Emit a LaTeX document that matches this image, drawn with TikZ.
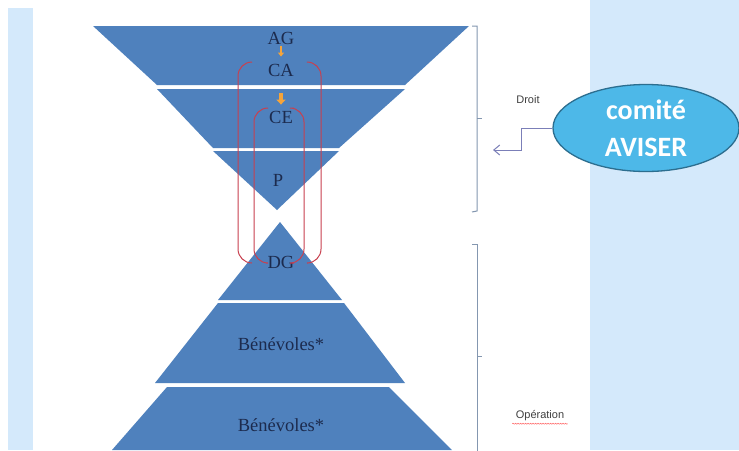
\documentclass[tikz,border=0pt]{standalone}
\usepackage{fontspec}
\setmainfont{Liberation Serif}
\newfontfamily\labelfont{Liberation Sans}
\newfontfamily\calfont{Carlito}
\usetikzlibrary{shapes.geometric,arrows.meta,decorations.pathmorphing}

\definecolor{bandblue}{HTML}{4F81BD}
\definecolor{bandtext}{HTML}{1C2B4E}
\definecolor{bgblue}{HTML}{D4E9FB}
\definecolor{linkred}{HTML}{C8404F}
\definecolor{stepor}{HTML}{F5A43A}
\definecolor{bracecol}{HTML}{8497B0}
\definecolor{arrowcol}{HTML}{7B7FB8}
\definecolor{ellfill}{HTML}{4DB8E8}
\definecolor{ellborder}{HTML}{2C6E8F}

\tikzset{
  band/.style={fill=bandblue},
  bandlabel/.style={text=bandtext, inner sep=1pt, font=\fontsize{18.5}{22}\selectfont},
  sidelabel/.style={text=black!75, font=\labelfont\fontsize{11}{13}\selectfont},
  linkline/.style={linkred, line width=1pt, rounded corners=14pt},
  brace/.style={bracecol, line width=1pt}
}

\begin{document}
\begin{tikzpicture}[x=1pt, y=-1pt]
        \useasboundingbox (0,0) rectangle (739,450);

        % Background
        \fill[white] (0,0) rectangle (739,450);
        \fill[bgblue] (8,8) rectangle (33,450);
        \fill[bgblue] (590,0) rectangle (739,450);

        % Top (inverted) pyramid
        \fill[band] (93,26) -- (469,26) -- (405,85) -- (157,85) -- cycle;
        \fill[band] (157,89) -- (405,89) -- (339,148) -- (213,148) -- cycle;
        \fill[band] (213,151) -- (339,151) -- (277,210) -- cycle;

        % Bottom pyramid
        \fill[band] (280,222) -- (342,300) -- (218,300) -- cycle;
        \fill[band] (218,303) -- (344,303) -- (405,383) -- (155,383) -- cycle;
        \fill[band] (167,387) -- (389,387) -- (452,450) -- (112,450) -- cycle;

        % Labels
        \node[bandlabel] (ag) at (281,38) {AG};
        \node[bandlabel] (ca) at (281,70) {CA};
        \node[bandlabel] (ce) at (281,117) {CE};
        \node[bandlabel] (p) at (278,180) {P};
        \node[bandlabel] (dg) at (281,262) {DG};
        \node[bandlabel] (ben1) at (281,344) {Bénévoles*};
        \node[bandlabel] (ben2) at (281,425) {Bénévoles*};

        % Orange steps
        \draw[stepor, line width=2.5pt, shorten <=1pt, shorten >=6pt, -{Triangle[width=6pt,length=4pt]}] (ag.south) -- (ca.north);
        \draw[stepor, line width=4pt, shorten <=16pt, shorten >=5pt, -{Triangle[width=9pt,length=5pt]}] (ca.south) -- (ce.north);

        % Red links
        \draw[linkline] (252,62) -- (238,62) -- (238,263) -- (252,263);
        \draw[linkline] (308,62) -- (321,62) -- (321,263) -- (308,263);
        \draw[linkline] (266,108) -- (254,108) -- (254,263) -- (266,263);
        \draw[linkline] (294,108) -- (304,108) -- (304,263) -- (294,263);

        % Braces
        \draw[brace] (472,26) -- (477,26) -- (477,211) -- (472,212);
        \draw[brace] (477,118) -- (482,118);
        \draw[brace] (472,244) -- (477,244) -- (477,452);
        \draw[brace] (477,356) -- (482,356);

        \node[sidelabel] (droit) at (528,100) {Droit};
        \node[sidelabel] (operation) at (540,416) {Opération};
        \draw[red!60, line width=0.5pt, decorate, decoration={snake, amplitude=0.5pt, segment length=2.5pt}] ([yshift=1pt]operation.south west) -- ([yshift=1pt]operation.south east);

        % Comite
        \node[ellipse, draw=ellborder, fill=ellfill, line width=1.3pt, minimum width=186pt, minimum height=87pt, inner sep=0pt, align=center, text=white, font=\calfont\bfseries\fontsize{28}{37}\selectfont] (aviser) at (646,128) {comité\\AVISER};
        \coordinate (droitin) at (493,150);
        \draw[arrowcol, line width=1pt, -{Straight Barb[length=6pt,width=10pt]}] (aviser.west) -- ++(-31,0) |- (droitin);
    \end{tikzpicture}
\end{document}
